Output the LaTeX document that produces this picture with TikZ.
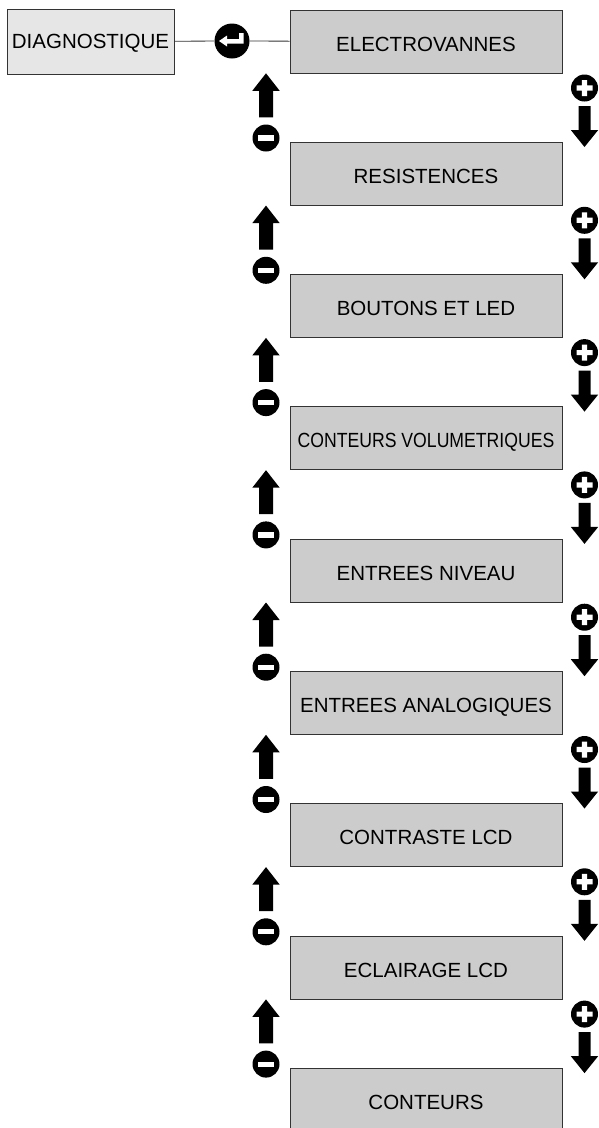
\documentclass[tikz,border=0pt]{standalone}
\usepackage{fontspec}
\setmainfont{Liberation Sans}
\usepackage{tikz}
\usetikzlibrary{positioning}
\definecolor{boxgray}{HTML}{CCCCCC}
\definecolor{lightgray}{HTML}{E6E6E6}
\definecolor{edgegray}{HTML}{333333}
\tikzstyle{menu}=[rectangle,draw=edgegray,line width=1pt,fill=boxgray,minimum width=272pt,minimum height=63pt,inner sep=0pt,text height=19pt,text depth=0pt,font=\fontsize{20.5}{24}\selectfont]
\tikzstyle{topmenu}=[menu,fill=lightgray,minimum width=167pt,minimum height=65pt,text height=14.6pt]
\tikzstyle{knob}=[circle,fill=black,draw=none,inner sep=0pt,minimum size=27pt]
\tikzstyle{minusknob}=[knob,path picture={\fill[white,shift={(path picture bounding box.center)}] (-8,-2.6) rectangle (8,2.6);}]
\tikzstyle{plusknob}=[knob,path picture={\fill[white,shift={(path picture bounding box.center)}] (-8,-2.6) rectangle (8,2.6) (-2.6,-8) rectangle (2.6,8);}]
\tikzstyle{enterknob}=[knob,minimum size=35pt,path picture={\fill[white,shift={(path picture bounding box.center)}] (-13,0) -- (-5,-5.5) -- (-5,-2) -- (7,-2) -- (7,-8) -- (11.5,-8) -- (11.5,2.5) -- (-5,2.5) -- (-5,5.5) -- cycle;}]
\tikzset{
  uparr/.pic={\fill (0,0) -- (13.7,17.5) -- (7,17.5) -- (7,44) -- (-7,44) -- (-7,17.5) -- (-13.7,17.5) -- cycle;},
  downarr/.pic={\fill (0,0) -- (13.7,-17) -- (6,-17) -- (6,-41) -- (-6,-41) -- (-6,-17) -- (-13.7,-17) -- cycle;}
}

\begin{document}
\begin{tikzpicture}[x=1pt,y=-1pt]
\useasboundingbox (0,0) rectangle (598,1128);
        \node[topmenu] (diag) at (90.5,41.5) {DIAGNOSTIQUE};
        \node[enterknob] (enter) at (232,41) {};
        \foreach \n/\lbl in {0/ELECTROVANNES, 1/RESISTENCES, 2/BOUTONS ET LED,
          3/{\scalebox{0.86}[1]{CONTEURS VOLUMETRIQUES}}, 4/ENTREES NIVEAU,
          5/ENTREES ANALOGIQUES, 6/CONTRASTE LCD, 7/ECLAIRAGE LCD, 8/CONTEURS}{
          \node[menu] (m\n) at (426,{41.5+132.3*\n}) {\lbl};
        }
        \draw [edgegray,line width=0.8pt] (diag) -- (enter) -- (m0);
        % up / down keys between the entries
        \foreach \n in {0,...,7}{
          \pic at (266,{73.3+132.3*\n}) {uparr};
          \node[minusknob] (minus\n) at (266,{138+132.3*\n}) {};
          \node[plusknob] (plus\n) at (584.5,{88+132.3*\n}) {};
          \pic at (584.5,{147+132.3*\n}) {downarr};
        }
      \end{tikzpicture}
\end{document}
